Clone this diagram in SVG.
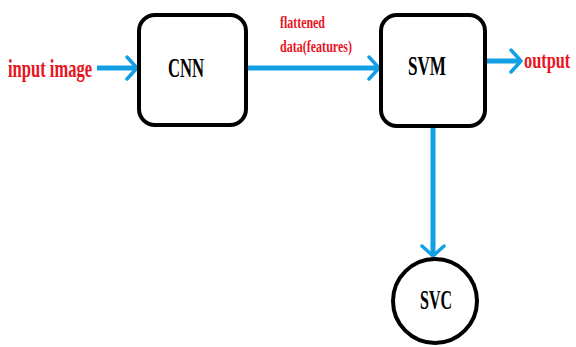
<svg xmlns="http://www.w3.org/2000/svg" width="576" height="347" viewBox="0 0 576 347">
<style>
.box{fill:#fff;stroke:#000;stroke-width:4}
.lbl{font-family:"Liberation Serif",serif;font-weight:bold;fill:#000;font-size:27px}
.red{font-family:"Liberation Serif",serif;font-weight:bold;fill:#e8141e}
.con{stroke:#139fe4;stroke-width:5;fill:none}
</style>
<defs>
<marker id="ah" viewBox="0 0 14 26" refX="12" refY="13" markerWidth="14" markerHeight="26" markerUnits="userSpaceOnUse" orient="auto">
<path d="M2,2 L12,13 L2,24" fill="none" stroke="#139fe4" stroke-width="3.5" stroke-linecap="round" stroke-linejoin="round"/>
</marker>
</defs>
<rect width="576" height="347" fill="#fff"/>
<g id="connectors">
<line class="con" x1="97" y1="68" x2="137" y2="68" marker-end="url(#ah)"/>
<line class="con" x1="247" y1="68" x2="379" y2="68" marker-end="url(#ah)"/>
<line class="con" x1="487" y1="61" x2="521" y2="61" marker-end="url(#ah)"/>
<line class="con" x1="433" y1="128" x2="433" y2="256" stroke-width="4" marker-end="url(#ah)"/>
</g>
<g id="input-label">
<text class="red" x="8" y="77" font-size="25" textLength="84" lengthAdjust="spacingAndGlyphs">input image</text>
</g>
<g id="edge-label">
<text class="red" x="280" y="28" font-size="17" textLength="45" lengthAdjust="spacingAndGlyphs">flattened</text>
<text class="red" x="280" y="52" font-size="17" textLength="72" lengthAdjust="spacingAndGlyphs">data(features)</text>
</g>
<g id="cnn">
<rect class="box" x="139" y="15" width="107" height="110" rx="16"/>
<text class="lbl" x="168" y="77" textLength="36" lengthAdjust="spacingAndGlyphs">CNN</text>
</g>
<g id="svm">
<rect class="box" x="381" y="15" width="104" height="111" rx="16"/>
<text class="lbl" x="408" y="75" textLength="38" lengthAdjust="spacingAndGlyphs">SVM</text>
</g>
<g id="output-label">
<text class="red" transform="translate(524 68) scale(0.68 1)" x="0" y="0" font-size="24">output</text>
</g>
<g id="svc">
<circle cx="435" cy="301" r="42" fill="#fff" stroke="#000" stroke-width="4"/>
<text class="lbl" x="420" y="309" font-size="25" textLength="32" lengthAdjust="spacingAndGlyphs">SVC</text>
</g>
</svg>
